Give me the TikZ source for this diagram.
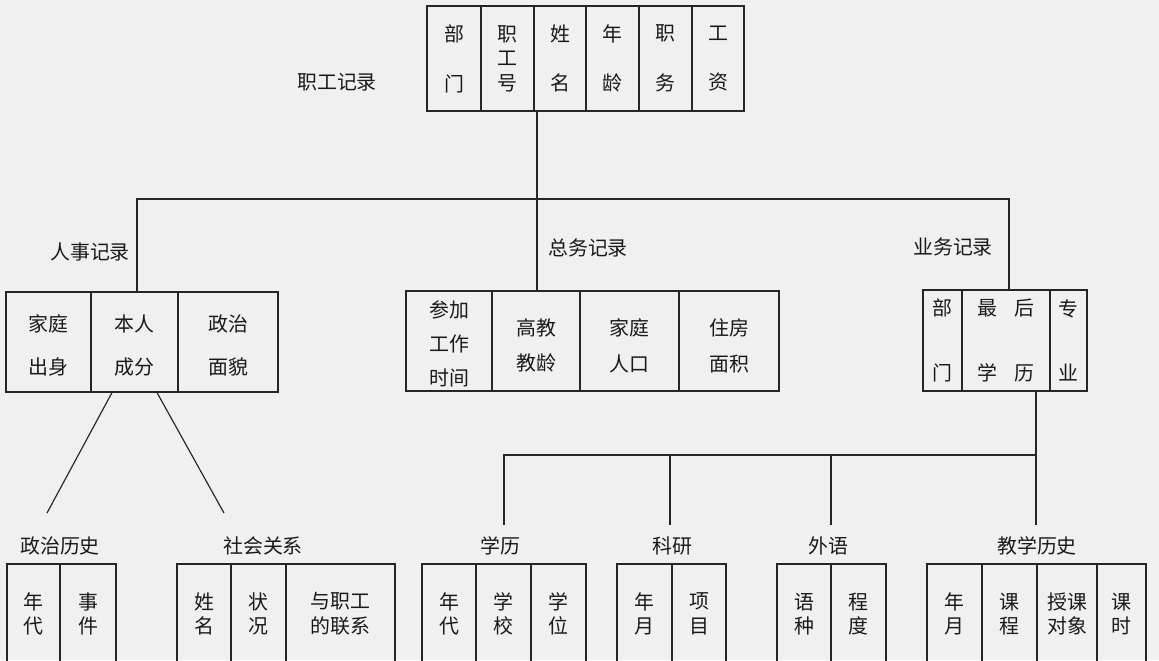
\documentclass[tikz,border=0pt]{standalone}
\usepackage{fontspec}
\setmainfont{Noto Sans CJK SC}
\usetikzlibrary{calc}

\begin{document}
\begin{tikzpicture}[x=0.3mm, y=-0.3mm, line width=1pt, draw=black!85, text=black!90,
  font=\fontsize{17}{21}\selectfont,
  cell/.style 2 args={draw, inner sep=0pt, align=center, minimum width=#1*0.3mm, minimum height=#2*0.3mm},
  title/.style={inner sep=1pt}]

\clip (0,0) rectangle (1159,660);
\fill[black!6] (0,0) rectangle (1159,660);

% top table
\node[title] (zgjl) at (337,82) {职工记录};
\node[cell={54}{105}] (zg1) at (454,58.5) {部\\[21.5pt]门};
\node[cell={53}{105}] (zg2) at (507.5,58.5) {职\\工\\号};
\node[cell={52}{105}] (zg3) at (560,58.5) {姓\\[21.5pt]名};
\node[cell={53}{105}] (zg4) at (612.5,58.5) {年\\[21.5pt]龄};
\node[cell={53}{105}] (zg5) at (665.5,58.5) {职\\[21.5pt]务};
\node[cell={52}{105}] (zg6) at (718,58.5) {工\\[21.5pt]资};

% second level
\node[title] (rsjl) at (90,252) {人事记录};
\node[cell={85}{100}] (rs1) at (48.5,342) {\rule{0pt}{20pt}家庭\\[16pt]出身};
\node[cell={87}{100}] (rs2) at (134.5,342) {\rule{0pt}{20pt}本人\\[16pt]成分};
\node[cell={100}{100}] (rs3) at (228,342) {\rule{0pt}{20pt}政治\\[16pt]面貌};

\node[title] (zwjl) at (588,248) {总务记录};
\node[cell={86}{100}] (zw1) at (449,341) {\rule{0pt}{19pt}参加\\[8pt]工作\\[8pt]时间};
\node[cell={88}{100}] (zw2) at (536,341) {\rule{0pt}{22pt}高教\\[9.6pt]教龄};
\node[cell={99}{100}] (zw3) at (629.5,341) {\rule{0pt}{22pt}家庭\\[9.6pt]人口};
\node[cell={100}{100}] (zw4) at (729,341) {\rule{0pt}{22pt}住房\\[9.6pt]面积};

\node[title] (ywjl) at (953,247) {业务记录};
\node[cell={39}{101}] (yw1) at (942.5,340.5) {部\\[34pt]门};
\node[cell={88}{101}] (yw2) at (1006,340.5) {最\hspace{14pt}后\\[34pt]学\hspace{14pt}历};
\node[cell={37}{101}] (yw3) at (1068.5,340.5) {专\\[34pt]业};

% third level
\node[title] (zzls) at (60,546) {政治历史};
\node[cell={53}{100}] (zz1) at (33.5,614) {年\\代};
\node[cell={56}{100}] (zz2) at (88,614) {事\\件};

\node[title] (shgx) at (263,546) {社会关系};
\node[cell={54}{100}] (sh1) at (204,614) {姓\\名};
\node[cell={55}{100}] (sh2) at (258.5,614) {状\\况};
\node[cell={109}{100}] (sh3) at (340.5,614) {与职工\\的联系};

\node[title] (xlbt) at (500,546) {学历};
\node[cell={54}{100}] (xl1) at (449,614) {年\\代};
\node[cell={55}{100}] (xl2) at (503.5,614) {学\\校};
\node[cell={55}{100}] (xl3) at (558.5,614) {学\\位};

\node[title] (kybt) at (672,546) {科研};
\node[cell={55}{100}] (ky1) at (644.5,614) {年\\月};
\node[cell={54}{100}] (ky2) at (699,614) {项\\目};

\node[title] (wybt) at (828,546) {外语};
\node[cell={54}{100}] (wy1) at (804,614) {语\\种};
\node[cell={55}{100}] (wy2) at (858.5,614) {程\\度};

\node[title] (jxls) at (1037,546) {教学历史};
\node[cell={55}{100}] (jx1) at (954.5,614) {年\\月};
\node[cell={55}{100}] (jx2) at (1009.5,614) {课\\程};
\node[cell={60}{100}] (jx3) at (1067,614) {授课\\对象};
\node[cell={49}{100}] (jx4) at (1121.5,614) {课\\时};

% connectors
\coordinate (tj) at (537,199);
\coordinate (tl) at (137,199);
\coordinate (tr) at (1009,199);
\draw (tj |- zg3.south) -- (tj |- zw2.north);
\draw (tl |- rs2.north) -- (tl) -- (tr) -- (tr |- yw2.north);

\coordinate (zzt) at (47,513);
\coordinate (sht) at (224,513);
\draw ($(rs2.south)+(-22.5,0)$) -- (zzt);
\draw ($(rs2.south)+(22.5,0)$) -- (sht);

\coordinate (foot) at (0,525);
\coordinate (ml) at (504,455);
\coordinate (ko) at (670,455);
\coordinate (wo) at (831,455);
\coordinate (mr) at (1036,455);
\draw (mr |- yw2.south) -- (mr |- foot);
\draw (ml |- foot) -- (ml) -- (mr);
\draw (ko) -- (ko |- foot);
\draw (wo) -- (wo |- foot);
\end{tikzpicture}
\end{document}
